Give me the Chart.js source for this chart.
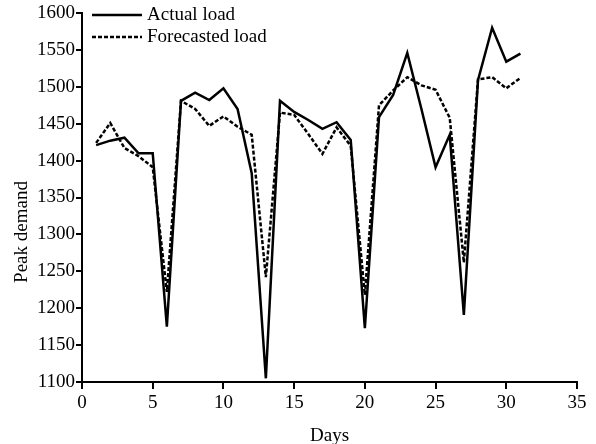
<!DOCTYPE html>
<html>
<head>
<meta charset="utf-8">
<script src="https://cdn.jsdelivr.net/npm/chart.js@4/dist/chart.umd.min.js"></script>
<style>
  html, body { margin: 0; padding: 0; background: #fff; }
  #wrap { width: 596px; height: 444px; }
</style>
</head>
<body>
<div id="wrap"><canvas id="chart" width="596" height="444"></canvas></div>
<script>
const days = [1, 2, 3, 4, 5, 6, 7, 8, 9, 10, 11, 12, 13, 14, 15, 16, 17, 18, 19, 20, 21, 22, 23, 24, 25, 26, 27, 28, 29, 30, 31];
const actualLoad = [1421, 1427, 1431, 1410, 1410, 1175, 1481, 1492, 1482, 1498, 1470, 1383, 1105, 1481, 1466, 1455, 1443, 1452, 1428, 1173, 1459, 1489, 1546, 1470, 1391, 1435, 1191, 1509, 1580, 1534, 1545];
const forecastLoad = [1424, 1451, 1417, 1406, 1391, 1222, 1481, 1470, 1447, 1460, 1446, 1435, 1242, 1465, 1462, 1436, 1409, 1445, 1420, 1218, 1475, 1495, 1513, 1502, 1496, 1458, 1262, 1510, 1513, 1498, 1512];
const xTicks = [0, 5, 10, 15, 20, 25, 30, 35];
const yTicks = [1100, 1150, 1200, 1250, 1300, 1350, 1400, 1450, 1500, 1550, 1600];
const yTitle = 'Peak demand';

const FONT = '"Liberation Serif", "Times New Roman", serif';

// legend inside the plot, top-left, and the y title drawn a bit below centre like the original
const extras = {
  id: 'extras',
  afterDraw(chart) {
    const { ctx, chartArea } = chart;
    ctx.save();
    ctx.font = '19px ' + FONT;
    ctx.fillStyle = '#000';
    ctx.textBaseline = 'middle';
    chart.data.datasets.forEach((ds, i) => {
      const y = chartArea.top + 2 + i * 22;
      const x0 = chartArea.left + 10;
      ctx.beginPath();
      ctx.lineWidth = 2.5;
      ctx.strokeStyle = '#000';
      ctx.setLineDash(ds.borderDash || []);
      ctx.moveTo(x0, y);
      ctx.lineTo(x0 + 50, y);
      ctx.stroke();
      ctx.setLineDash([]);
      ctx.fillText(ds.label, x0 + 55, y);
    });
    ctx.translate(22, 232);
    ctx.rotate(-Math.PI / 2);
    ctx.textAlign = 'center';
    ctx.fillText(yTitle, 0, 0);
    ctx.restore();
  },
};

new Chart(document.getElementById('chart'), {
  type: 'line',
  data: {
    datasets: [
      {
        label: 'Actual load',
        data: days.map((d, i) => ({ x: d, y: actualLoad[i] })),
        borderColor: '#000',
        borderWidth: 2.5,
        pointRadius: 0,
        tension: 0,
      },
      {
        label: 'Forecasted load',
        data: days.map((d, i) => ({ x: d, y: forecastLoad[i] })),
        borderColor: '#000',
        borderWidth: 2.5,
        borderDash: [4, 2],
        pointRadius: 0,
        tension: 0,
      },
    ],
  },
  options: {
    responsive: false,
    animation: false,
    layout: { padding: { top: 13, right: 19, left: 0, bottom: 0 } },
    plugins: { legend: { display: false }, tooltip: { enabled: false } },
    scales: {
      x: {
        type: 'linear',
        min: 0,
        max: 35,
        afterBuildTicks: (axis) => { axis.ticks = xTicks.map((v) => ({ value: v })); },
        afterFit: (axis) => { axis.height = 62; },
        border: { color: '#000', width: 2 },
        grid: { drawOnChartArea: false, color: '#000', lineWidth: 2, tickLength: 7 },
        ticks: { color: '#000', font: { family: FONT, size: 19 }, padding: 3, maxRotation: 0, callback: (v) => String(v) },
        title: { display: true, text: 'Days', color: '#000', font: { family: FONT, size: 19 }, padding: { top: 4, bottom: -3 } },
      },
      y: {
        min: 1100,
        max: 1600,
        afterBuildTicks: (axis) => { axis.ticks = yTicks.map((v) => ({ value: v })); },
        afterFit: (axis) => { axis.width = 82; },
        border: { color: '#000', width: 2 },
        grid: { drawOnChartArea: false, color: '#000', lineWidth: 2, tickLength: 6 },
        ticks: { color: '#000', font: { family: FONT, size: 19 }, padding: 1, callback: (v) => String(v) },
      },
    },
  },
  plugins: [extras],
});
</script>
</body>
</html>
